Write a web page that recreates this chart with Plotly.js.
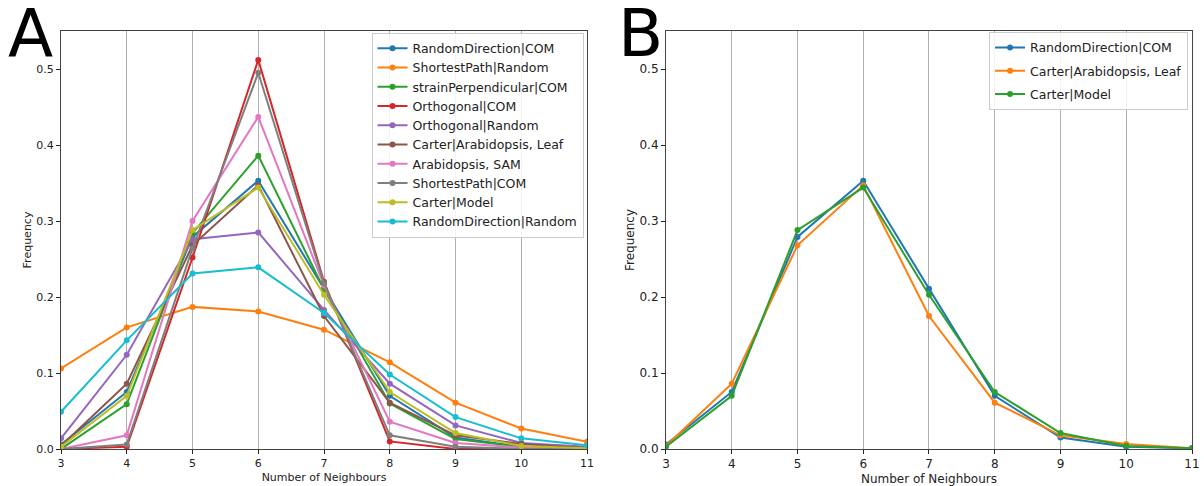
<!DOCTYPE html>
<html>
<head>
<meta charset="utf-8">
<script src="https://cdn.plot.ly/plotly-3.0.1.min.js"></script>
<style>html,body{margin:0;padding:0;background:#fff;}#chart{width:1204px;height:486px;}</style>
</head>
<body>
<div id="chart"></div>
<script>
const neighbours = [3, 4, 5, 6, 7, 8, 9, 10, 11];

// Panel A series
const randomDirectionCOM   = [0.006, 0.075, 0.279, 0.353, 0.211, 0.070, 0.015, 0.003, 0.001];
const shortestPathRandom   = [0.106, 0.160, 0.187, 0.181, 0.157, 0.114, 0.061, 0.027, 0.0096];
const strainPerpCOM        = [0.000, 0.059, 0.284, 0.386, 0.210, 0.060, 0.013, 0.003, 0.0005];
const orthogonalCOM        = [0.000, 0.003, 0.252, 0.512, 0.220, 0.010, 0.000, 0.000, 0.000];
const orthogonalRandom     = [0.014, 0.124, 0.276, 0.285, 0.183, 0.086, 0.031, 0.008, 0.003];
const carterLeaf           = [0.004, 0.086, 0.268, 0.347, 0.175, 0.061, 0.018, 0.0066, 0.001];
const arabidopsisSAM       = [0.000, 0.018, 0.300, 0.437, 0.215, 0.036, 0.008, 0.002, 0.000];
const shortestPathCOM      = [0.000, 0.006, 0.264, 0.495, 0.218, 0.018, 0.003, 0.000, 0.000];
const carterModel          = [0.003, 0.070, 0.288, 0.344, 0.203, 0.075, 0.021, 0.004, 0.001];
const randomDirectionRandom= [0.049, 0.143, 0.231, 0.239, 0.179, 0.098, 0.042, 0.014, 0.005];

const namesA = ['RandomDirection|COM','ShortestPath|Random','strainPerpendicular|COM','Orthogonal|COM',
  'Orthogonal|Random','Carter|Arabidopsis, Leaf','Arabidopsis, SAM','ShortestPath|COM','Carter|Model','RandomDirection|Random'];
const valuesA = [randomDirectionCOM, shortestPathRandom, strainPerpCOM, orthogonalCOM, orthogonalRandom,
  carterLeaf, arabidopsisSAM, shortestPathCOM, carterModel, randomDirectionRandom];

// Panel B series
const namesB = ['RandomDirection|COM','Carter|Arabidopsis, Leaf','Carter|Model'];
const valuesB = [randomDirectionCOM, carterLeaf, carterModel];

const yTicks = [0, 0.1, 0.2, 0.3, 0.4, 0.5];
const yTickLabels = ['0.0','0.1','0.2','0.3','0.4','0.5'];

const colorsA = ['#1f77b4','#ff7f0e','#2ca02c','#d62728','#9467bd','#8c564b','#e377c2','#7f7f7f','#bcbd22','#17becf'];
const colorsB = ['#1f77b4','#ff7f0e','#2ca02c'];

const traces = [];
namesA.forEach((n, i) => traces.push({
  x: neighbours, y: valuesA[i], name: n, type: 'scatter', mode: 'lines+markers',
  line: {color: colorsA[i], width: 2}, marker: {color: colorsA[i], size: 6},
  xaxis: 'x', yaxis: 'y', legend: 'legend'
}));
namesB.forEach((n, i) => traces.push({
  x: neighbours, y: valuesB[i], name: n, type: 'scatter', mode: 'lines+markers',
  line: {color: colorsB[i], width: 2}, marker: {color: colorsB[i], size: 6},
  xaxis: 'x2', yaxis: 'y2', legend: 'legend2', legendgroup: 'b' + i
}));

const font = {family: 'DejaVu Sans', size: 11, color: '#222'};
function xax(domain, anchor, tsize) {
  return {domain: domain, anchor: anchor, range: [3, 11], tickvals: neighbours, ticks: 'outside', ticklen: 4,
    tickcolor: '#222', showgrid: true, gridcolor: '#b0b0b0', gridwidth: 1, zeroline: false,
    showline: true, mirror: true, linecolor: '#444', linewidth: 1,
    tickfont: {family: 'DejaVu Sans', size: tsize, color: '#222'},
    title: {text: 'Number of Neighbours', font: {family: 'DejaVu Sans', size: tsize, color: '#222'}, standoff: 4}};
}
function yax(domain, anchor, tsize) {
  return {domain: domain, anchor: anchor, range: [0, 0.55], tickvals: yTicks, ticktext: yTickLabels,
    ticks: 'outside', ticklen: 4, tickcolor: '#222', showgrid: false, zeroline: false,
    showline: true, mirror: true, linecolor: '#444', linewidth: 1,
    tickfont: {family: 'DejaVu Sans', size: tsize, color: '#222'},
    title: {text: 'Frequency', font: {family: 'DejaVu Sans', size: tsize, color: '#222'}, standoff: 2}};
}
const legendBase = {bgcolor: 'rgba(255,255,255,0.85)', bordercolor: '#cccccc', borderwidth: 1,
  font: {family: 'DejaVu Sans', size: 12.5, color: '#222'}, xanchor: 'right', yanchor: 'top',
  itemwidth: 30, itemclick: false};

const layout = {
  width: 1204, height: 486, paper_bgcolor: '#fff', plot_bgcolor: '#fff', font: font,
  margin: {l: 61, r: 12, t: 31, b: 37},
  showlegend: true,
  xaxis: xax([0, 0.4651], 'y', 11),
  yaxis: yax([0, 1], 'x', 11),
  xaxis2: xax([0.5349, 1], 'y2', 12),
  yaxis2: yax([0, 1], 'x2', 12),
  legend: Object.assign({}, legendBase, {x: 0.462, y: 0.996, traceorder: 'normal'}),
  legend2: Object.assign({}, legendBase, {x: 0.9965, y: 0.998, traceorder: 'grouped', tracegroupgap: 4}),
  annotations: [
    {text: 'A', xref: 'paper', yref: 'paper', x: -0.0274, y: 1.092, xanchor: 'center', yanchor: 'top', showarrow: false,
     font: {family: 'DejaVu Sans', size: 66, color: '#000'}},
    {text: 'B', xref: 'paper', yref: 'paper', x: 0.512, y: 1.092, xanchor: 'center', yanchor: 'top', showarrow: false,
     font: {family: 'DejaVu Sans', size: 66, color: '#000'}}
  ]
};
Plotly.newPlot('chart', traces, layout, {displayModeBar: false, staticPlot: true});
</script>
</body>
</html>
